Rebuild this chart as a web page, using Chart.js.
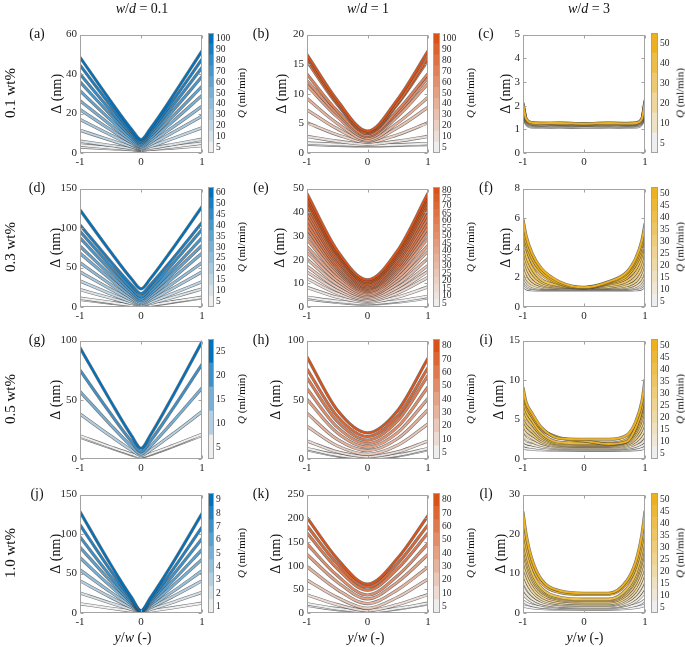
<!DOCTYPE html>
<html>
<head>
<meta charset="utf-8">
<script src="https://cdn.jsdelivr.net/npm/chart.js@4.4.1/dist/chart.umd.min.js"></script>
<style>
  body { margin: 0; background: #fff; }
  #page { position: relative; width: 685px; height: 647px; overflow: hidden;
          font-family: "Liberation Serif", "DejaVu Serif", serif; color: #111; }
  canvas { position: absolute; }
  .lbl { position: absolute; white-space: nowrap; line-height: 1; }
</style>
</head>
<body>
<div id="page"></div>
<script>
// x grids (y/w) shared by the curves of each column
const xV = [-1, -0.5, -0.15, 0, 0.15, 0.5, 1];
const xP = [-1, -0.5, 0, 0.5, 1];
const xU = [-1, -0.95, -0.85, -0.7, -0.4, 0, 0.4, 0.7, 0.85, 0.95, 1];

// colorbar levels (Q, ml/min) and Q of each curve, bottom curve first
const cbA = [5, 10, 20, 30, 40, 50, 60, 70, 80, 90, 100];
const qA = [5, 5, 10, 20, 30, 40, 50, 60, 70, 80, 90, 100];
const cbB = [5, 10, 20, 30, 40, 50, 60, 70, 80, 90, 100];
const qB = [5, 5, 10, 20, 30, 40, 50, 60, 70, 80, 90, 100];
const cbC = [5, 10, 20, 30, 40, 50];
const qC = [5, 5, 10, 20, 30, 40, 50];
const cbD = [5, 10, 15, 20, 25, 30, 35, 40, 45, 50, 60];
const qD = [5, 5, 10, 15, 20, 25, 30, 35, 40, 45, 50, 60];
const cbE = [5, 10, 15, 20, 25, 30, 35, 40, 45, 50, 55, 60, 65, 70, 75, 80];
const qE = [5, 5, 10, 15, 20, 25, 30, 35, 40, 45, 50, 55, 60, 60, 65, 65, 70, 75, 80, 80];
const cbF = [5, 10, 15, 20, 25, 30, 35, 40, 45, 50];
const qF = [5, 5, 10, 15, 20, 25, 30, 35, 40, 45, 50, 50];
const cbG = [5, 10, 15, 20, 25];
const qG = [5, 5, 10, 15, 20, 25];
const cbH = [5, 10, 20, 30, 40, 50, 60, 70, 80];
const qH = [5, 5, 10, 20, 30, 40, 50, 60, 70, 80];
const cbI = [5, 10, 15, 20, 25, 30, 35, 40, 45, 50];
const qI = [5, 5, 10, 15, 20, 25, 30, 35, 40, 45, 50, 50];
const cbJ = [1, 2, 3, 4, 5, 6, 7, 8, 9];
const qJ = [1, 2, 3, 4, 5, 6, 7, 8, 9];
const cbK = [5, 10, 20, 30, 40, 50, 60, 70, 80];
const qK = [5, 5, 10, 20, 30, 40, 50, 60, 70, 80];
const cbL = [5, 10, 15, 20, 25, 30, 35, 40, 45, 50];
const qL = [5, 5, 10, 10, 15, 20, 25, 30, 30, 35, 40, 45, 50];

// Delta (nm) of each curve
const curvesA = [
  [3.0, 2.2, 1.7, 1.5, 1.8, 2.5, 3.7],
  [4.0, 2.7, 1.8, 1.5, 1.9, 3.1, 5.0],
  [6.0, 3.8, 2.3, 1.8, 2.4, 4.2, 7.0],
  [11.5, 6.5, 3.1, 2.0, 3.3, 7.1, 12.8],
  [17.0, 9.2, 4.1, 2.3, 4.3, 10.0, 18.7],
  [22.0, 11.8, 5.1, 2.8, 5.3, 12.6, 23.7],
  [26.5, 14.2, 6.0, 3.2, 6.3, 15.4, 29.2],
  [31.5, 16.8, 7.1, 3.8, 7.4, 17.9, 33.8],
  [36.0, 19.3, 8.3, 4.5, 8.6, 20.6, 38.7],
  [40.0, 21.6, 9.4, 5.2, 9.8, 23.1, 43.3],
  [44.5, 24.1, 10.6, 6.0, 11.0, 25.5, 47.5],
  [48.5, 26.4, 11.8, 6.8, 12.2, 27.9, 51.7]
];
const curvesB = [
  [1.5, 1.3, 1.2, 1.3, 1.4],
  [1.7, 1.45, 1.3, 1.4, 1.6],
  [2.8, 2.0, 1.5, 2.0, 2.8],
  [5.1, 3.1, 1.8, 3.1, 5.1],
  [7.3, 4.1, 2.0, 4.3, 7.7],
  [9.2, 5.0, 2.2, 5.1, 9.4],
  [11.4, 6.1, 2.5, 6.2, 11.7],
  [12.2, 6.6, 2.8, 6.8, 12.7],
  [13.3, 7.1, 3.0, 7.2, 13.4],
  [15.5, 8.2, 3.3, 8.3, 15.7],
  [16.1, 8.5, 3.5, 8.5, 16.2],
  [16.6, 8.9, 3.7, 9.1, 17.2]
];
const curvesC = [
  [1.75, 1.25, 1.1, 1.08, 1.09, 1.08, 1.08, 1.09, 1.1, 1.25, 1.85],
  [1.85, 1.3, 1.14, 1.12, 1.12, 1.11, 1.12, 1.13, 1.14, 1.3, 1.95],
  [1.9, 1.33, 1.17, 1.15, 1.16, 1.15, 1.15, 1.16, 1.17, 1.33, 2.0],
  [1.95, 1.36, 1.2, 1.18, 1.19, 1.17, 1.18, 1.19, 1.2, 1.36, 2.05],
  [2.0, 1.4, 1.22, 1.2, 1.22, 1.19, 1.21, 1.2, 1.22, 1.4, 2.1],
  [2.05, 1.42, 1.25, 1.24, 1.23, 1.22, 1.24, 1.22, 1.25, 1.42, 2.15],
  [2.1, 1.45, 1.28, 1.26, 1.27, 1.24, 1.27, 1.25, 1.27, 1.45, 2.2]
];
const curvesD = [
  [9.6, 5.0, 2.0, 1.0, 2.3, 5.9, 11.5],
  [11.2, 5.9, 2.4, 1.2, 2.6, 6.5, 12.5],
  [22, 11.4, 4.4, 2.0, 4.5, 11.8, 22.9],
  [33, 16.8, 6.2, 2.5, 6.0, 16.4, 32],
  [44.6, 22.8, 8.4, 3.5, 8.4, 22.8, 44.6],
  [56, 28.7, 10.7, 4.5, 10.7, 28.7, 56],
  [68, 35.1, 13.4, 6, 13.4, 35.1, 68],
  [77, 40.4, 16.3, 8, 16.4, 40.9, 78],
  [87.5, 46.4, 19.3, 10, 19.3, 46.4, 87.5],
  [96, 52.0, 23.0, 13, 23.2, 53.0, 98],
  [104, 57.9, 27.4, 17, 27.8, 59.3, 107],
  [123, 70, 35, 23, 35.5, 71.9, 127]
];
const curvesE = [
  [3.4, 2.0, 1.2, 2.1, 3.8],
  [4.1, 2.4, 1.5, 2.5, 4.5],
  [8.3, 4.1, 2.0, 4.2, 8.5],
  [12, 5.7, 2.5, 5.9, 12.5],
  [14.7, 7.0, 3.0, 7.1, 15],
  [17.2, 8.2, 3.6, 8.3, 17.5],
  [20.2, 9.6, 4.2, 9.7, 20.5],
  [23, 11.0, 4.8, 11.2, 23.5],
  [25.5, 12.2, 5.4, 12.4, 26],
  [28.6, 13.7, 6.0, 13.8, 29],
  [31.1, 14.9, 6.5, 15.0, 31.5],
  [33.1, 15.9, 7.0, 16.0, 33.5],
  [35.1, 16.9, 7.5, 17.0, 35.5],
  [37.2, 17.9, 8.0, 18.0, 37.5],
  [39.3, 19.0, 8.5, 19.0, 39.5],
  [41.3, 20.0, 9.0, 20.0, 41.5],
  [43.1, 21.0, 9.6, 21.1, 43.5],
  [44.8, 22.0, 10.2, 22.0, 45],
  [46.1, 22.8, 10.8, 22.9, 46.5],
  [47.8, 23.8, 11.5, 23.9, 48]
];
const curvesF = [
  [1.5, 1.25, 1.17, 1.15, 1.15, 1.15, 1.15, 1.15, 1.17, 1.25, 1.5],
  [1.8, 1.4, 1.25, 1.2, 1.2, 1.2, 1.2, 1.2, 1.25, 1.4, 1.7],
  [2.0, 1.55, 1.3, 1.23, 1.22, 1.22, 1.22, 1.23, 1.3, 1.55, 2.0],
  [2.4, 1.75, 1.4, 1.28, 1.25, 1.25, 1.25, 1.28, 1.4, 1.75, 2.4],
  [2.8, 2.0, 1.55, 1.35, 1.27, 1.25, 1.28, 1.35, 1.55, 2.05, 2.9],
  [3.3, 2.4, 1.75, 1.45, 1.32, 1.3, 1.32, 1.45, 1.75, 2.45, 3.4],
  [3.8, 2.8, 2.0, 1.55, 1.35, 1.3, 1.35, 1.6, 2.0, 2.8, 3.9],
  [4.3, 3.2, 2.3, 1.7, 1.4, 1.3, 1.45, 1.75, 2.3, 3.2, 4.4],
  [4.8, 3.6, 2.6, 1.85, 1.45, 1.3, 1.55, 1.95, 2.6, 3.6, 4.9],
  [5.2, 4.1, 3.0, 2.2, 1.55, 1.3, 1.6, 2.1, 2.9, 3.9, 5.2],
  [5.5, 4.4, 3.3, 2.4, 1.6, 1.3, 1.65, 2.25, 3.1, 4.2, 5.4],
  [5.9, 4.8, 3.6, 2.6, 1.7, 1.33, 1.7, 2.35, 3.3, 4.5, 5.6]
];
const curvesG = [
  [18.5, 9.5, 3.5, 1.5, 3.7, 10.2, 20],
  [19.5, 10.2, 4.1, 2, 4.3, 10.9, 21],
  [38, 19.5, 7.2, 3, 7.4, 20.4, 40],
  [57, 28.9, 10.4, 4, 10.7, 30.3, 60],
  [75, 38.4, 14.3, 6, 14.9, 40.8, 80],
  [94, 49.0, 19.2, 9, 19.8, 51.3, 99]
];
const curvesH = [
  [7.7, 2.7, 0.5, 2.7, 7.7],
  [8.8, 3.3, 1, 3.3, 8.8],
  [15.2, 6.0, 2, 6.0, 15.2],
  [27.6, 11.1, 4, 11.7, 29.6],
  [38.7, 16.5, 7, 17.3, 41.4],
  [50.3, 22.1, 10, 22.3, 51.1],
  [59.4, 26.9, 13, 27.3, 60.8],
  [68.5, 31.8, 16, 32.3, 70.4],
  [76, 36.1, 19, 36.4, 77],
  [86.2, 41.3, 22, 40.9, 85]
];
const curvesI = [
  [1.4, 1.32, 1.25, 1.17, 1.11, 1.1, 1.1, 1.12, 1.19, 1.29, 1.4],
  [1.8, 1.63, 1.5, 1.33, 1.21, 1.2, 1.2, 1.25, 1.41, 1.65, 1.9],
  [2.3, 2.02, 1.8, 1.52, 1.32, 1.3, 1.3, 1.38, 1.63, 2.0, 2.4],
  [3.0, 2.55, 2.2, 1.75, 1.43, 1.4, 1.4, 1.53, 1.94, 2.55, 3.2],
  [3.8, 3.16, 2.65, 2.01, 1.55, 1.5, 1.5, 1.68, 2.25, 3.1, 4.0],
  [4.5, 3.69, 3.05, 2.24, 1.66, 1.6, 1.6, 1.84, 2.62, 3.78, 5.0],
  [5.3, 4.29, 3.5, 2.49, 1.77, 1.7, 1.7, 2.0, 2.99, 4.45, 6.0],
  [6.0, 4.82, 3.9, 2.72, 1.88, 1.8, 1.8, 2.16, 3.36, 5.13, 7.0],
  [7.0, 5.57, 4.45, 3.02, 2.0, 1.9, 1.9, 2.31, 3.67, 5.68, 7.8],
  [7.8, 6.18, 4.9, 3.28, 2.12, 2.0, 2.0, 2.46, 3.98, 6.22, 8.6],
  [8.5, 6.8, 5.4, 3.8, 2.7, 2.3, 1.9, 2.2, 4.0, 6.5, 9.2],
  [9.0, 7.2, 5.75, 4.0, 2.6, 2.5, 2.5, 3.0, 4.75, 7.3, 10.0]
];
const curvesJ = [
  [11.7, 6.0, 2.4, 1, 2.5, 6.4, 12.5],
  [25.4, 12.6, 4.3, 1.2, 4.5, 13.0, 26.3],
  [40.8, 20.0, 6.6, 1.5, 6.6, 20.0, 40.8],
  [54.6, 26.6, 8.7, 1.8, 8.5, 26.0, 53.3],
  [70, 34.0, 10.8, 2, 10.6, 33.0, 67.9],
  [83.3, 40.3, 12.7, 2.2, 12.4, 39.0, 80.4],
  [96.3, 46.5, 14.6, 2.4, 14.3, 45.5, 94.2],
  [111.7, 53.9, 16.8, 2.6, 16.4, 52.5, 108.8],
  [128.3, 61.8, 19.1, 2.8, 18.8, 60.7, 126]
];
const curvesK = [
  [16, 7.3, 2, 8.5, 19],
  [19.4, 9.2, 3, 9.8, 20.8],
  [38.2, 17.6, 5, 17.9, 38.9],
  [69.4, 32.6, 10, 33.4, 71.5],
  [97.9, 49.6, 20, 49.3, 97.2],
  [123.6, 65.6, 30, 65.6, 123.6],
  [145.8, 79.0, 38, 79.2, 146.5],
  [168.8, 93.9, 48, 93.9, 168.8],
  [184, 104.0, 55, 104.8, 186],
  [201.4, 114.4, 61, 115.9, 205.6]
];
const curvesL = [
  [1.8, 1.58, 1.33, 1.14, 1.02, 1.0, 1.0, 1.15, 1.39, 1.72, 2.0],
  [3.0, 2.51, 1.94, 1.51, 1.25, 1.2, 1.2, 1.52, 2.02, 2.71, 3.3],
  [5.0, 4.03, 2.88, 2.01, 1.51, 1.4, 1.4, 2.02, 3.0, 4.35, 5.5],
  [6.5, 5.18, 3.61, 2.43, 1.75, 1.6, 1.6, 2.41, 3.71, 5.49, 7.0],
  [8.5, 6.72, 4.61, 3.02, 2.1, 1.9, 1.9, 2.97, 4.67, 7.01, 9.0],
  [10.5, 8.23, 5.54, 3.53, 2.35, 2.1, 2.1, 3.44, 5.57, 8.51, 11.0],
  [12.5, 9.77, 6.54, 4.12, 2.7, 2.4, 2.4, 3.99, 6.53, 10.03, 13.0],
  [14.5, 11.34, 7.6, 4.79, 3.15, 2.8, 2.8, 4.63, 7.56, 11.58, 15.0],
  [16.5, 12.88, 8.59, 5.38, 3.5, 3.1, 3.1, 5.19, 8.52, 13.11, 17.0],
  [18.0, 14.03, 9.33, 5.8, 3.74, 3.3, 3.3, 5.58, 9.23, 14.24, 18.5],
  [20.0, 15.55, 10.27, 6.31, 4.0, 3.5, 3.5, 6.05, 10.13, 15.74, 20.5],
  [22.5, 17.69, 12.0, 7.73, 5.23, 4.7, 4.7, 7.45, 11.84, 17.88, 23.0],
  [25.5, 19.97, 13.41, 8.49, 5.62, 5.0, 5.0, 8.11, 13.07, 19.9, 25.7]
];

// axis limits
const yMaxes = [60, 20, 5, 150, 50, 8, 100, 100, 15, 150, 250, 30];
const ySteps = [20, 5, 1, 50, 10, 2, 50, 50, 5, 50, 50, 10];

const colTitles = ['0.1', '1', '3'];
const rowTitles = ['0.1 wt%', '0.3 wt%', '0.5 wt%', '1.0 wt%'];
const letters = ['a', 'b', 'c', 'd', 'e', 'f', 'g', 'h', 'i', 'j', 'k', 'l'];

// ---- layout / style ----
const FONT = '"Liberation Serif", "DejaVu Serif", serif';
const TICK_COLOR = '#262626';
const FRAME_COLOR = '#a3a3a3';
const LOW = [238, 238, 238];
const colBase = [[0, 114, 189], [217, 83, 25], [237, 177, 32]];
const layoutCols = [
  { left: 80, width: 122, cbLeft: 208, cbWidth: 6, qTitleX: 241, xTitleX: 133 },
  { left: 307, width: 121, cbLeft: 433, cbWidth: 7, qTitleX: 470, xTitleX: 366 },
  { left: 523, width: 122, cbLeft: 651, cbWidth: 7, qTitleX: 680, xTitleX: 585 }
];
const layoutRows = [33, 187, 339, 493];
const yTitleGaps = [23, 25, 17, 24, 27, 17, 24, 31, 24, 24, 31, 22];
const PLOT_H = 120;
const Y_BOX = 40, PAD_T = 8, PAD_R = 8, X_BOX = 22;

const page = document.getElementById('page');

function mix(base, t) {
  return 'rgb(' + LOW.map((v, k) => Math.round(v + (base[k] - v) * t)).join(',') + ')';
}

function levelColors(levels, base) {
  return levels.map((_, i) => mix(base, levels.length > 1 ? i / (levels.length - 1) : 1));
}

function addCanvas(left, top, w, h) {
  const c = document.createElement('canvas');
  c.width = w;
  c.height = h;
  c.style.left = left + 'px';
  c.style.top = top + 'px';
  c.style.width = w + 'px';
  c.style.height = h + 'px';
  page.appendChild(c);
  return c;
}

function addLabel(html, x, y, size, rotate) {
  const d = document.createElement('div');
  d.className = 'lbl';
  d.innerHTML = html;
  d.style.left = x + 'px';
  d.style.top = y + 'px';
  d.style.fontSize = size + 'px';
  d.style.transform = 'translate(-50%,-50%)' + (rotate ? ' rotate(-90deg)' : '');
  page.appendChild(d);
}

// box around the axes plus small inward ticks
const framePlugin = {
  id: 'frame',
  afterDraw(chart) {
    const { ctx, chartArea: a, scales } = chart;
    const l = Math.round(a.left) + 0.5, t = Math.round(a.top) + 0.5;
    const r = Math.round(a.right) - 0.5, b = Math.round(a.bottom) - 0.5;
    ctx.save();
    ctx.strokeStyle = FRAME_COLOR;
    ctx.lineWidth = 1;
    ctx.strokeRect(l, t, r - l, b - t);
    if (chart.config.type === 'line') {
      ctx.beginPath();
      for (const tk of scales.x.ticks) {
        const px = Math.round(scales.x.getPixelForValue(tk.value)) + 0.5;
        ctx.moveTo(px, b); ctx.lineTo(px, b - 3);
        ctx.moveTo(px, t); ctx.lineTo(px, t + 3);
      }
      for (const tk of scales.y.ticks) {
        const py = Math.round(scales.y.getPixelForValue(tk.value)) + 0.5;
        ctx.moveTo(l, py); ctx.lineTo(l + 3, py);
        ctx.moveTo(r, py); ctx.lineTo(r - 3, py);
      }
      ctx.stroke();
    }
    ctx.restore();
  }
};

function drawPanel(p, idx) {
  const col = layoutCols[p.col];
  const top = layoutRows[p.row];
  const w = Y_BOX + col.width + PAD_R;
  const h = PAD_T + PLOT_H + X_BOX;
  const canvas = addCanvas(col.left - Y_BOX, top - PAD_T, w, h);
  const colors = levelColors(p.levels, colBase[p.col]);
  const n = p.curves.length;
  const datasets = [];
  p.curves.forEach((ys, k) => {
    const pts = p.xs.map((x, i) => ({ x, y: ys[i] }));
    const c = colors[p.levels.indexOf(p.q[k])];
    datasets.push({ data: pts, borderColor: 'rgba(60,60,60,0.7)', borderWidth: 3.2, order: 2 * (n - k) + 1 });
    datasets.push({ data: pts, borderColor: c, borderWidth: 2, order: 2 * (n - k) });
  });
  const titlePad = Y_BOX - yTitleGaps[idx] - 8.4;

  new Chart(canvas, {
    type: 'line',
    data: { datasets },
    options: {
      responsive: false,
      animation: false,
      devicePixelRatio: 1,
      layout: { padding: { top: PAD_T, right: PAD_R, left: 0, bottom: 0 } },
      elements: {
        point: { radius: 0 },
        line: { cubicInterpolationMode: 'monotone', borderCapStyle: 'round', borderJoinStyle: 'round' }
      },
      plugins: { legend: { display: false }, tooltip: { enabled: false } },
      scales: {
        x: {
          type: 'linear', min: -1, max: 1,
          afterFit: (s) => { s.height = X_BOX; },
          grid: { display: false, drawTicks: false },
          border: { display: false },
          ticks: { stepSize: 1, padding: 3, maxRotation: 0, color: TICK_COLOR, font: { family: FONT, size: 11 } }
        },
        y: {
          min: 0, max: p.yMax,
          afterFit: (s) => { s.width = Y_BOX; },
          grid: { display: false, drawTicks: false },
          border: { display: false },
          ticks: { stepSize: p.yStep, padding: 3, color: TICK_COLOR, font: { family: FONT, size: 11 } },
          title: {
            display: true, text: '\u0394 (nm)', color: '#111',
            font: { family: FONT, size: 14 }, padding: { top: titlePad, bottom: 0 }
          }
        }
      }
    },
    plugins: [framePlugin]
  });
}

function drawColorbar(p) {
  const col = layoutCols[p.col];
  const top = layoutRows[p.row];
  const colors = levelColors(p.levels, colBase[p.col]);
  const labelBox = 24;
  const canvas = addCanvas(col.cbLeft, top - 8, col.cbWidth + labelBox, PLOT_H + 16);

  new Chart(canvas, {
    type: 'bar',
    data: {
      labels: [''],
      datasets: p.levels.map((q, i) => ({
        data: [1], backgroundColor: colors[i], borderWidth: 0,
        barPercentage: 1, categoryPercentage: 1, stack: 'cb'
      }))
    },
    options: {
      responsive: false,
      animation: false,
      devicePixelRatio: 1,
      layout: { padding: { top: 8, bottom: 8, left: 0, right: 0 } },
      plugins: { legend: { display: false }, tooltip: { enabled: false } },
      scales: {
        x: { display: false, stacked: true },
        y: {
          position: 'right', stacked: true, min: 0, max: p.levels.length,
          afterFit: (s) => { s.width = labelBox; },
          afterBuildTicks: (s) => { s.ticks = p.levels.map((q, i) => ({ value: i + 0.5 })); },
          grid: { display: false, drawTicks: false },
          border: { display: false },
          ticks: {
            autoSkip: false, padding: 2, color: TICK_COLOR,
            font: { family: FONT, size: 9.5 },
            callback: (v) => String(p.levels[Math.floor(v)])
          }
        }
      }
    },
    plugins: [framePlugin]
  });
}

const panels = [
  { col: 0, row: 0, xs: xV, curves: curvesA, q: qA, levels: cbA },
  { col: 1, row: 0, xs: xP, curves: curvesB, q: qB, levels: cbB },
  { col: 2, row: 0, xs: xU, curves: curvesC, q: qC, levels: cbC },
  { col: 0, row: 1, xs: xV, curves: curvesD, q: qD, levels: cbD },
  { col: 1, row: 1, xs: xP, curves: curvesE, q: qE, levels: cbE },
  { col: 2, row: 1, xs: xU, curves: curvesF, q: qF, levels: cbF },
  { col: 0, row: 2, xs: xV, curves: curvesG, q: qG, levels: cbG },
  { col: 1, row: 2, xs: xP, curves: curvesH, q: qH, levels: cbH },
  { col: 2, row: 2, xs: xU, curves: curvesI, q: qI, levels: cbI },
  { col: 0, row: 3, xs: xV, curves: curvesJ, q: qJ, levels: cbJ },
  { col: 1, row: 3, xs: xP, curves: curvesK, q: qK, levels: cbK },
  { col: 2, row: 3, xs: xU, curves: curvesL, q: qL, levels: cbL }
];

panels.forEach((p, i) => {
  p.yMax = yMaxes[i];
  p.yStep = ySteps[i];
  drawPanel(p, i);
  drawColorbar(p);
  const col = layoutCols[p.col];
  const top = layoutRows[p.row];
  const letterX = [37, 261, 486][p.col];
  addLabel('(' + letters[i] + ')', letterX, top + 1, 14, false);
  addLabel('<i>Q</i> (ml/min)', col.qTitleX, top + PLOT_H / 2, 11, true);
});

colTitles.forEach((t, c) => {
  const x = [142, 368, 589][c];
  addLabel('<i>w</i>/<i>d</i> = ' + t, x, 9, 14, false);
});
rowTitles.forEach((t, r) => {
  addLabel(t, 10, layoutRows[r] + PLOT_H / 2, 15, true);
});
layoutCols.forEach((col) => {
  addLabel('<i>y</i>/<i>w</i> (-)', col.xTitleX, 638, 14, false);
});
</script>
</body>
</html>
